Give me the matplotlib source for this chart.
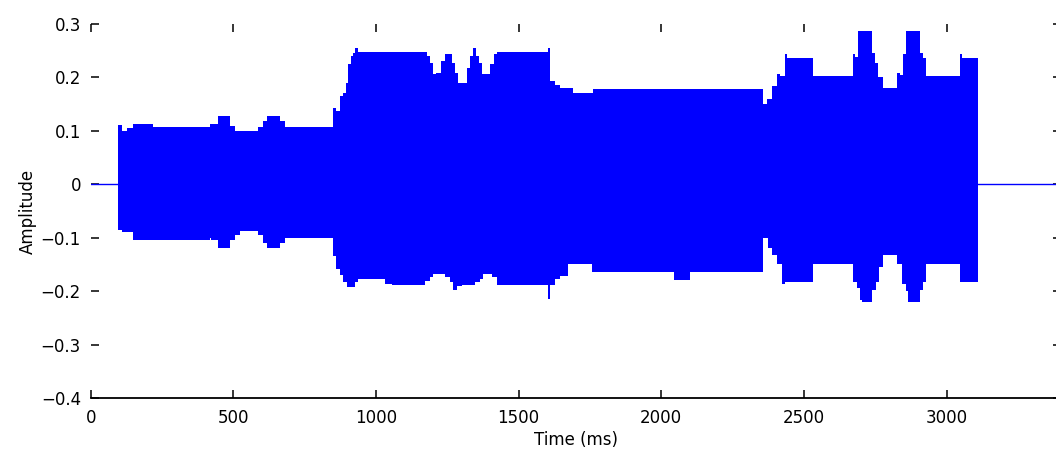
import matplotlib
matplotlib.use("Agg")
import matplotlib.pyplot as plt

# ---- data: waveform envelope ----
upper_t = [96, 110, 127, 148, 218, 418, 446, 471, 488, 506, 524, 569, 586, 604, 618, 646,
           663, 681, 848, 849, 860, 874, 884, 895, 902, 913, 919, 926, 937, 1172, 1179,
           1190, 1200, 1210, 1228, 1242, 1256, 1266, 1277, 1288, 1309, 1319, 1330, 1340,
           1351, 1361, 1372, 1386, 1400, 1414, 1424, 1596, 1603, 1610, 1628, 1645, 1691,
           1750, 1760, 2353, 2356, 2370, 2388, 2405, 2416, 2434, 2441, 2528, 2532, 2668,
           2672, 2679, 2689, 2731, 2738, 2749, 2759, 2777, 2819, 2826, 2837, 2847, 2858,
           2900, 2907, 2917, 2928, 3044, 3047, 3054, 3108, 3110]
upper_a = [0.111, 0.100, 0.105, 0.113, 0.108, 0.113, 0.127, 0.127, 0.109, 0.100, 0.099, 0.099,
           0.108, 0.118, 0.127, 0.127, 0.118, 0.108, 0.108, 0.143, 0.138, 0.165, 0.170, 0.190,
           0.225, 0.240, 0.246, 0.256, 0.248, 0.248, 0.240, 0.227, 0.207, 0.209, 0.230, 0.244,
           0.244, 0.227, 0.209, 0.190, 0.190, 0.218, 0.240, 0.256, 0.240, 0.227, 0.207, 0.207,
           0.225, 0.244, 0.248, 0.248, 0.256, 0.194, 0.186, 0.180, 0.171, 0.171, 0.178, 0.178,
           0.150, 0.160, 0.184, 0.207, 0.203, 0.244, 0.237, 0.237, 0.203, 0.203, 0.244, 0.238,
           0.286, 0.286, 0.246, 0.227, 0.200, 0.180, 0.180, 0.209, 0.205, 0.244, 0.286, 0.286,
           0.246, 0.237, 0.203, 0.203, 0.244, 0.237, 0.237, 0.0]

lower_t = [96, 110, 148, 218, 418, 422, 446, 471, 488, 506, 524, 569, 586, 604, 618, 646,
           663, 681, 848, 849, 860, 874, 884, 898, 916, 926, 937, 1025, 1032, 1056, 1154,
           1172, 1190, 1200, 1235, 1242, 1260, 1270, 1284, 1302, 1330, 1347, 1365, 1375,
           1400, 1407, 1424, 1592, 1603, 1610, 1628, 1645, 1673, 1750, 1757, 2030, 2045,
           2095, 2101, 2353, 2356, 2360, 2374, 2388, 2405, 2423, 2434, 2528, 2532, 2668,
           2672, 2686, 2696, 2703, 2731, 2738, 2752, 2763, 2777, 2819, 2826, 2844, 2858,
           2865, 2900, 2907, 2917, 2928, 3044, 3047, 3108, 3110]
lower_a = [-0.086, -0.090, -0.104, -0.104, -0.100, -0.105, -0.120, -0.120, -0.105, -0.095,
           -0.087, -0.087, -0.095, -0.110, -0.120, -0.120, -0.110, -0.100, -0.100, -0.135,
           -0.158, -0.169, -0.182, -0.192, -0.192, -0.182, -0.177, -0.177, -0.186, -0.188,
           -0.188, -0.181, -0.174, -0.167, -0.167, -0.174, -0.182, -0.197, -0.190, -0.188,
           -0.188, -0.182, -0.177, -0.167, -0.167, -0.174, -0.188, -0.188, -0.214, -0.188,
           -0.178, -0.172, -0.150, -0.150, -0.165, -0.165, -0.180, -0.180, -0.165, -0.165,
           -0.100, -0.100, -0.120, -0.132, -0.150, -0.186, -0.182, -0.182, -0.150, -0.150,
           -0.182, -0.195, -0.216, -0.220, -0.220, -0.197, -0.182, -0.154, -0.132, -0.132,
           -0.150, -0.186, -0.200, -0.220, -0.220, -0.197, -0.182, -0.150, -0.150, -0.182,
           -0.182, 0.0]

x_ticks = [0, 500, 1000, 1500, 2000, 2500, 3000]
x_tick_labels = ["0", "500", "1000", "1500", "2000", "2500", "3000"]
y_ticks = [-0.4, -0.3, -0.2, -0.1, 0.0, 0.1, 0.2, 0.3]
y_tick_labels = ["\u22120.4", "\u22120.3", "\u22120.2", "\u22120.1", "0", "0.1", "0.2", "0.3"]
x_limits = (0, 3400)
y_limits = (-0.4, 0.3)
baseline = [0.0, 0.0]

plt.rcParams["font.family"] = ["DejaVu Sans"]
plt.rcParams["axes.unicode_minus"] = True
fsize = 12

fig = plt.figure(figsize=(10.56, 4.62), dpi=100)
ax = fig.add_axes([90.7 / 1056, 1 - 398 / 462, 970 / 1056, 374 / 462])

blue = "#0000FF"
ax.plot(list(x_limits), baseline, color=blue, lw=1.0)
ax.fill_between(upper_t, 0, upper_a, step="post", facecolor=blue, lw=0, antialiased=False)
ax.fill_between(lower_t, lower_a, 0, step="post", facecolor=blue, lw=0, antialiased=False)

ax.set_xlim(*x_limits)
ax.set_ylim(*y_limits)
ax.set_xticks(x_ticks)
ax.set_xticklabels(x_tick_labels)
ax.set_yticks(y_ticks)
ax.set_yticklabels(y_tick_labels)

for s in ("top", "right", "left"):
    ax.spines[s].set_visible(False)
ax.spines["bottom"].set_linewidth(1.3)
ax.spines["bottom"].set_color("black")

ax.tick_params(direction="in", length=6, width=1.1, top=True, right=True,
               labelsize=fsize, pad=7, colors="black")
ax.tick_params(axis="x", pad=8)

ax.set_xlabel("Time (ms)", fontsize=fsize, labelpad=3)
ax.set_ylabel("Amplitude", fontsize=fsize, labelpad=3)

fig.savefig("out.png", dpi=100)
